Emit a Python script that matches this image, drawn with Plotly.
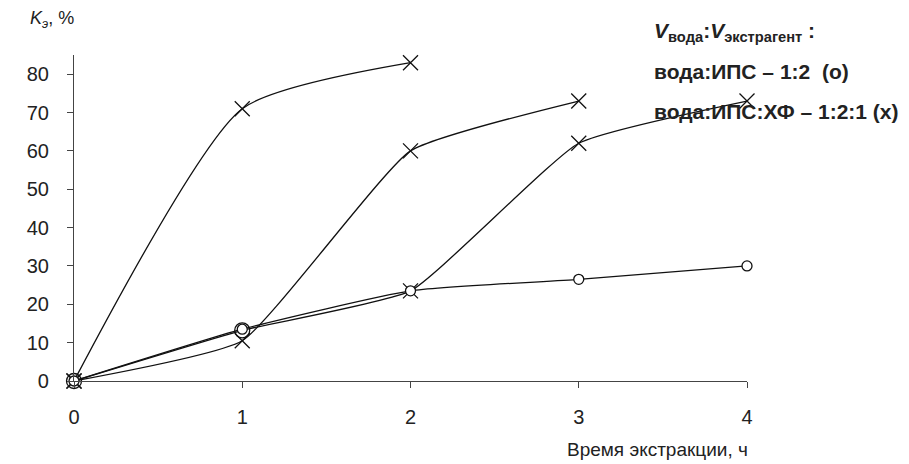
import plotly.graph_objects as go

hours = [0, 1, 2, 3, 4]
ips_vals = [0, 13.5, 23.5, 26.5, 30.0]          # вода:ИПС 1:2 (o)
hf_a_x = [0, 1, 2]
hf_a_vals = [0, 71.0, 83.0]                       # вода:ИПС:ХФ (x) curve 1
hf_b_x = [0, 1, 2, 3]
hf_b_vals = [0, 10.5, 60.0, 73.0]                 # curve 2
hf_c_x = [0, 1, 2, 3, 4]
hf_c_vals = [0, 13.2, 23.5, 62.0, 73.0]           # curve 3
hf_c_symbols = ["circle-open", "circle-open", "x-thin-open", "x-thin-open", "x-thin-open"]

y_ticks = [0, 10, 20, 30, 40, 50, 60, 70, 80]
x_ticks = [0, 1, 2, 3, 4]

FONT = "Liberation Sans, Arial, sans-serif"
LC = "#111111"

fig = go.Figure()

def xline(x, y, symbols=None, size=15, smooth=0.5):
    fig.add_trace(go.Scatter(
        x=x, y=y, mode="lines+markers",
        line=dict(color=LC, width=1.3, shape="spline", smoothing=smooth),
        marker=dict(symbol=symbols if symbols else "x-thin-open", size=size,
                    color=LC, line=dict(color=LC, width=1.3)),
        cliponaxis=False, showlegend=False, hoverinfo="skip"))

xline(hf_a_x, hf_a_vals, smooth=0.6)
xline(hf_b_x, hf_b_vals, smooth=0.42)
xline(hf_c_x, hf_c_vals, hf_c_symbols, smooth=0.42)

fig.add_trace(go.Scatter(
    x=hours, y=ips_vals, mode="lines+markers",
    line=dict(color=LC, width=1.3, shape="spline", smoothing=0.5),
    marker=dict(symbol="circle", size=10, color="white",
                line=dict(color=LC, width=1.3)),
    cliponaxis=False, showlegend=False, hoverinfo="skip"))

fig.update_layout(
    width=909, height=464,
    margin=dict(l=74, r=162, t=55, b=83),
    paper_bgcolor="white", plot_bgcolor="white",
    font=dict(family=FONT, color="#222222", size=20),
    xaxis=dict(range=[0, 4], tickvals=x_ticks, showgrid=False, zeroline=False,
               showline=True, linecolor="#444444", linewidth=1.2,
               ticks="outside", ticklen=6, tickcolor="#444444",
               ticklabelstandoff=12, tickfont=dict(size=20, family=FONT)),
    yaxis=dict(range=[0, 85], tickvals=y_ticks, showgrid=False, zeroline=False,
               showline=True, linecolor="#444444", linewidth=1.2,
               ticks="outside", ticklen=6, tickcolor="#444444",
               ticklabelstandoff=14, tickfont=dict(size=20, family=FONT)),
)

fig.add_annotation(xref="paper", yref="paper", x=(28 - 74) / 673, y=(381 - 20) / 326,
                   xanchor="left", yanchor="middle", showarrow=False,
                   text="<i>K<sub>э</sub></i>, %", font=dict(size=18, family=FONT))
fig.add_annotation(xref="paper", yref="paper", x=(750 - 74) / 673, y=(381 - 450) / 326,
                   xanchor="right", yanchor="middle", showarrow=False,
                   text="Время экстракции, ч", font=dict(size=19, family=FONT))

legend_lines = [
    ("<b><i>V</i><sub>вода</sub>:<i>V</i><sub>экстрагент</sub> :</b>", 32),
    ("<b>вода:ИПС – 1:2  (o)</b>", 71),
    ("<b>вода:ИПС:ХФ – 1:2:1 (x)</b>", 111),
]
for txt, ypx in legend_lines:
    fig.add_annotation(xref="paper", yref="paper", x=(652 - 74) / 673,
                       y=(381 - ypx) / 326, xanchor="left", yanchor="middle",
                       showarrow=False, text=txt,
                       font=dict(size=21, family=FONT, color="#222222"))

fig.write_html("out.html")
